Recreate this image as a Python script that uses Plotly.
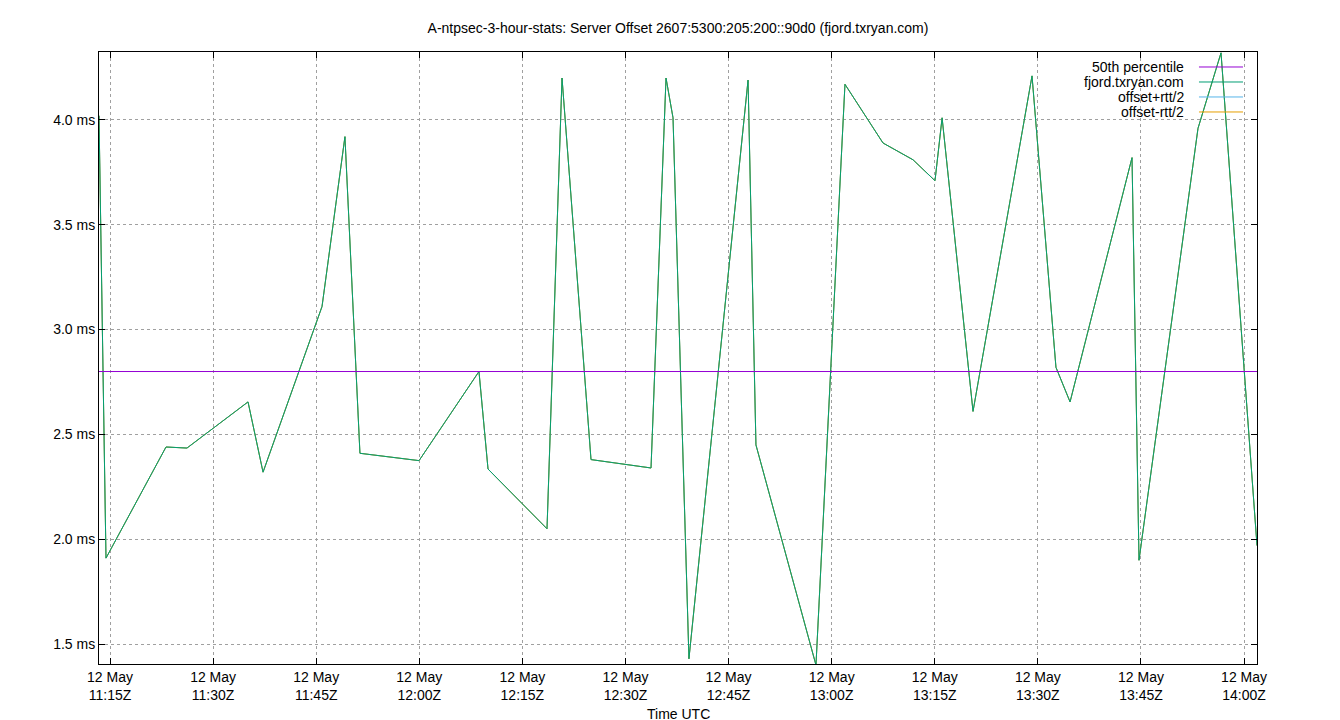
import plotly.graph_objects as go

times = ["11:13:24","11:14:25","11:23:09","11:26:12","11:35:05","11:37:16","11:45:51","11:49:11",
         "11:51:22","11:59:58","12:08:41","12:10:00","12:18:35","12:20:46","12:24:59","12:33:43",
         "12:35:54","12:36:55","12:39:14","12:47:50","12:48:59","12:57:43","13:01:56","13:07:28",
         "13:11:50","13:15:02","13:16:04","13:20:34","13:29:09","13:32:38","13:34:41","13:43:42",
         "13:44:43","13:53:18","13:56:39","14:01:53"]
offset_ms = [4.02,1.91,2.44,2.435,2.655,2.32,3.11,3.92,2.41,2.375,2.80,2.335,2.05,4.20,2.38,2.34,
             4.20,4.01,1.43,4.19,2.45,1.40,4.17,3.89,3.81,3.71,4.01,2.61,4.21,2.82,2.655,3.82,
             1.90,3.96,4.32,1.97]
p50 = 2.80
tick_times = ["11:15","11:30","11:45","12:00","12:15","12:30","12:45","13:00","13:15","13:30","13:45","14:00"]
y_ticks = [1.5,2.0,2.5,3.0,3.5,4.0]

day = "2024-05-12 "
xs = [day + t for t in times]
font = dict(family="Liberation Sans, Arial", size=14, color="black")

fig = go.Figure()
fig.add_trace(go.Scatter(x=xs, y=offset_ms, mode="lines", line=dict(color="#56b4e9", width=1), name="offset+rtt/2"))
fig.add_trace(go.Scatter(x=xs, y=offset_ms, mode="lines", line=dict(color="#e69f00", width=1), name="offset-rtt/2"))
fig.add_trace(go.Scatter(x=xs, y=offset_ms, mode="lines", line=dict(color="#009e73", width=1), name="fjord.txryan.com"))
fig.add_trace(go.Scatter(x=[day+"11:13:24", day+"14:01:53"], y=[p50, p50], mode="lines",
                         line=dict(color="#9400d3", width=1), name="50th percentile"))

legend = [("50th percentile", "#9400d3"), ("fjord.txryan.com", "#009e73"),
          ("offset+rtt/2", "#56b4e9"), ("offset-rtt/2", "#e69f00")]
shapes, annots = [], []
for i, (name, col) in enumerate(legend):
    yy = 0.9755 - i * 0.0245
    annots.append(dict(xref="paper", yref="paper", x=0.9387, y=yy, text=name, showarrow=False,
                       xanchor="right", yanchor="middle", font=font))
    shapes.append(dict(type="line", xref="paper", yref="paper", x0=0.9499, x1=0.9879, y0=yy, y1=yy,
                       line=dict(color=col, width=1)))
annots.append(dict(xref="paper", yref="paper", x=0.5, y=-0.0817, text="Time UTC", showarrow=False,
                   xanchor="center", yanchor="middle", font=font))

fig.update_layout(
    width=1340, height=720, showlegend=False,
    margin=dict(l=91, r=91, t=44, b=64, autoexpand=False),
    paper_bgcolor="white", plot_bgcolor="white", font=font,
    title=dict(text="A-ntpsec-3-hour-stats: Server Offset 2607:5300:205:200::90d0 (fjord.txryan.com)",
               x=0.5, xanchor="center", yref="container", y=1 - 20/720, yanchor="middle",
               font=dict(size=14)),
    shapes=shapes, annotations=annots,
)
fig.update_xaxes(range=[day+"11:13:24", day+"14:01:53"], automargin=False,
                 tickvals=[day+t for t in tick_times],
                 ticktext=["12 May<br>" + t + "Z" for t in tick_times],
                 showgrid=True, gridcolor="#a0a0a0", griddash="dot", gridwidth=1,
                 showline=True, linecolor="black", mirror="ticks", ticks="inside", ticklen=6,
                 tickcolor="black", zeroline=False)
fig.update_yaxes(range=[1.405, 4.324], tickvals=y_ticks, ticktext=[f"{v:.1f} ms" for v in y_ticks],
                 automargin=False,
                 showgrid=True, gridcolor="#a0a0a0", griddash="dot", gridwidth=1,
                 showline=True, linecolor="black", mirror="ticks", ticks="inside", ticklen=6,
                 tickcolor="black", zeroline=False)
fig.write_html("out.html")
